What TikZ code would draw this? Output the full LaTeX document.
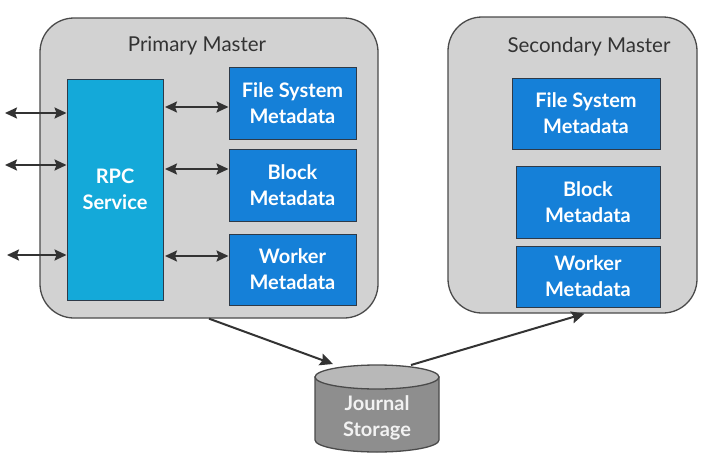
\documentclass[tikz,border=0pt]{standalone}
\usepackage{fontspec}
\setmainfont{Lato}
\usetikzlibrary{arrows.meta,positioning}
\definecolor{panelgray}{HTML}{D2D2D2}
\definecolor{paneledge}{HTML}{4A4A4A}
\definecolor{metablue}{HTML}{1580D8}
\definecolor{rpccyan}{HTML}{14A9D9}
\definecolor{boxedge}{HTML}{2E3A48}
\definecolor{arrowgray}{HTML}{333333}
\definecolor{cylbody}{HTML}{8E8E8E}
\definecolor{cyltop}{HTML}{B8B8B8}
\begin{document}
\begin{tikzpicture}[x=1pt,y=-1pt,
  panel/.style={draw=paneledge,line width=1.3pt,fill=panelgray,rounded corners=34pt},
  metabox/.style={draw=boxedge,line width=1pt,fill=metablue,text=white,font=\fontsize{20}{26}\selectfont\bfseries,align=center},
  rpcbox/.style={draw=boxedge,line width=1pt,fill=rpccyan,text=white,font=\fontsize{20}{26}\selectfont\bfseries,align=center},
  titletext/.style={text=arrowgray,font=\fontsize{20.5}{22}\selectfont},
  biarrow/.style={draw=arrowgray,line width=2pt,{Stealth[length=12pt,width=11pt,inset=2pt]}-{Stealth[length=12pt,width=11pt,inset=2pt]}},
  onearrow/.style={draw=arrowgray,line width=2pt,-{Stealth[length=13pt,width=12pt,inset=2pt]}}
]
\useasboundingbox (0,0) rectangle (702,458);
\fill[white] (0,0) rectangle (702,458);

% Primary master panel
\node[panel,minimum width=338pt,minimum height=300pt,inner sep=0pt] (primary) at (209,168) {};
\node[titletext] (ptitle) at (197,46) {Primary Master};

\node[rpcbox,minimum width=96pt,minimum height=221pt,inner sep=0pt] (rpc) at (115,189.5) {RPC\\Service};
\node[metabox,minimum width=127pt,minimum height=72pt,inner sep=0pt] (pfs) at (292.5,103) {File System\\Metadata};
\node[metabox,minimum width=127pt,minimum height=72pt,inner sep=0pt] (pblock) at (292.5,185) {Block\\Metadata};
\node[metabox,minimum width=127pt,minimum height=71pt,inner sep=0pt] (pworker) at (292.5,269.5) {Worker\\Metadata};

% Secondary master panel
\node[panel,minimum width=249pt,minimum height=296pt,inner sep=0pt] (secondary) at (572.5,165) {};
\node[titletext] (stitle) at (589,47) {Secondary Master};
\node[metabox,minimum width=148pt,minimum height=71pt,inner sep=0pt] (sfs) at (586,113.5) {File System\\Metadata};
\node[metabox,minimum width=144pt,minimum height=72pt,inner sep=0pt] (sblock) at (588,202) {Block\\Metadata};
\node[metabox,minimum width=144pt,minimum height=61pt,inner sep=0pt] (sworker) at (588,276.5) {Worker\\Metadata};

% external coordinates for client arrows
\coordinate (c1) at (5,113);
\coordinate (c2) at (5,165);
\coordinate (c3) at (7,255);

\draw[biarrow] (c1) -- (rpc.west |- c1);
\draw[biarrow] (c2) -- (rpc.west |- c2);
\draw[biarrow] (c3) -- (rpc.west |- c3);

\coordinate (m1) at (165,107);
\coordinate (m2) at (165,169);
\coordinate (m3) at (165,256);
\draw[biarrow] (m1) -- (pfs.west |- m1);
\draw[biarrow] (m2) -- (pblock.west |- m2);
\draw[biarrow] (m3) -- (pworker.west |- m3);

% Journal storage cylinder
\fill[cylbody,draw=paneledge,line width=1.3pt] (315,377) -- (315,440) arc[start angle=180,end angle=360,x radius=62pt,y radius=12pt] -- (439,377) -- cycle;
\draw[fill=cyltop,draw=paneledge,line width=1.3pt] (377,377) ellipse[x radius=62pt,y radius=12pt];
\node[text=white!90!gray,font=\fontsize{20}{26}\selectfont\bfseries,align=center] (journal) at (377,418) {Journal\\Storage};
\coordinate (jin) at (333,364);
\coordinate (jout) at (411,365);

\draw[onearrow] (primary.south) -- (jin);
\draw[onearrow] (jout) -- ([xshift=12pt]secondary.south);
\end{tikzpicture}
\end{document}
